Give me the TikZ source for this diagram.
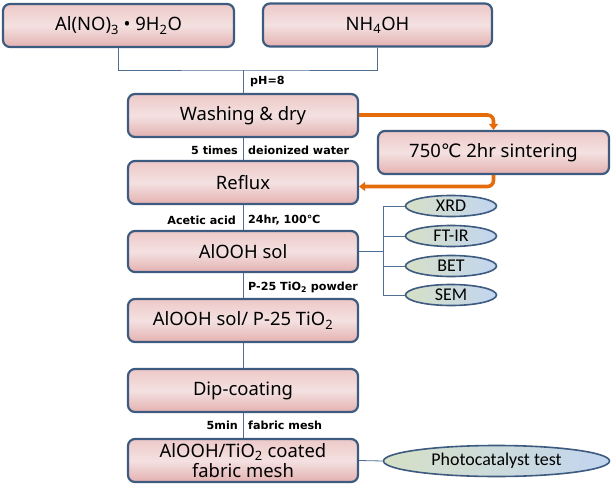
\documentclass[tikz,border=0pt]{standalone}
\usepackage{fontspec}
\setmainfont{Noto Sans}
\newfontfamily\lblfont{DejaVu Sans}
\newfontfamily\dvs{DejaVu Sans}
\newfontfamily\elfont{Carlito}
\usetikzlibrary{arrows.meta,shapes.geometric}
\definecolor{bordc}{HTML}{3D5A80}
\definecolor{connc}{HTML}{4F6F94}
\definecolor{orng}{HTML}{E46C0A}
\definecolor{pinkA}{HTML}{EDC9C8}
\definecolor{pinkB}{HTML}{F4E1E1}
\definecolor{pinkC}{HTML}{E3B1B0}
\definecolor{ellL}{HTML}{D6E0C6}
\definecolor{ellR}{HTML}{C2D5F0}
\newcommand{\degC}{{\dvs ℃}}
\tikzset{
  box/.style={draw=bordc, line width=2.2bp, rounded corners=7bp,
    top color=pinkA, bottom color=pinkC, middle color=pinkB,
    minimum width=230bp, minimum height=43bp, inner sep=1bp,
    font=\fontsize{18.5}{20}\selectfont, text=black, align=center},
  ell/.style={ellipse, draw=bordc, line width=1.6bp, left color=ellL, right color=ellR,
    minimum width=91bp, minimum height=21bp, inner sep=0pt,
    font=\elfont\fontsize{18}{18}\selectfont},
  conn/.style={draw=connc, line width=0.8bp},
  lbl/.style={font=\lblfont\bfseries\fontsize{11.2}{12}\selectfont, inner sep=0pt},
  orarrow/.style={draw=orng, line width=3.6bp, rounded corners=6bp,
    -{Triangle[length=6bp,width=9bp]}}
}
\begin{document}
\begin{tikzpicture}[x=1bp,y=-1bp]
\useasboundingbox (0,0) rectangle (612,486);
% main boxes
\node[box, minimum width=231bp] (al) at (118.5,25.5) {Al(NO)\textsubscript{3} • 9H\textsubscript{2}O};
\node[box, minimum width=229bp] (nh) at (377.5,25) {NH\textsubscript{4}OH};
\node[box] (wash) at (243,115.5) {Washing \& dry};
\node[box, minimum width=231bp] (sinter) at (493.5,152.5) {750\degC\ 2hr sintering};
\node[box] (reflux) at (243,182.5) {Reflux};
\node[box, minimum height=41bp] (sol) at (243,251.5) {AlOOH sol};
\node[box] (solp) at (243,320.5) {AlOOH sol/ P-25 TiO\textsubscript{2}};
\node[box] (dip) at (243,390.5) {Dip-coating};
\node[box] (fin) at (243,460.5) {AlOOH/TiO\textsubscript{2} coated\\fabric mesh};
% ellipses
\node[ell] (xrd) at (451,206) {XRD};
\node[ell] (ftir) at (451,236) {FT-IR};
\node[ell] (bet) at (451,266) {BET};
\node[ell] (sem) at (451,295) {SEM};
\node[ell, minimum width=226bp, minimum height=31bp] (photo) at (496.5,461) {Photocatalyst test};
% connectors
\coordinate (jn) at (243,70);
\draw[conn] (al.south) |- (jn) -| (nh.south);
\draw[conn] (jn) -- (wash.north);
\draw[conn] (wash.south) -- (reflux.north);
\draw[conn] (reflux.south) -- (sol.north);
\draw[conn] (sol.south) -- (solp.north);
\draw[conn] (solp.south) -- (dip.north);
\draw[conn] (dip.south) -- (fin.north);
\coordinate (sp) at (383,251.5);
\draw[conn] (sol.east) -- (sp);
\draw[conn] (xrd.west) -| (sp);
\draw[conn] (sem.west) -| (sp);
\draw[conn] (ftir.west) -- (ftir.west -| sp);
\draw[conn] (bet.west) -- (bet.west -| sp);
\draw[conn] (fin.east) -- (photo.west);
% orange arrows
\coordinate (rin) at ([yshift=-4bp]reflux.east);
\draw[orarrow] ([yshift=0.5bp]wash.east) -| (sinter.north);
\draw[orarrow] (sinter.south) |- (rin);
% labels
\node[lbl, anchor=west] at (250,82) {pH=8};
\node[lbl, anchor=east] at (238,150) {5 times};
\node[lbl, anchor=west] at (248,150) {deionized water};
\node[lbl, anchor=east] at (236,220) {Acetic acid};
\node[lbl, anchor=west] at (248,220) {24hr, 100\degC};
\node[lbl, anchor=west] at (248,287) {P-25 TiO\textsubscript{2} powder};
\node[lbl, anchor=east] at (238,425) {5min};
\node[lbl, anchor=west] at (248,425) {fabric mesh};
\end{tikzpicture}
\end{document}
